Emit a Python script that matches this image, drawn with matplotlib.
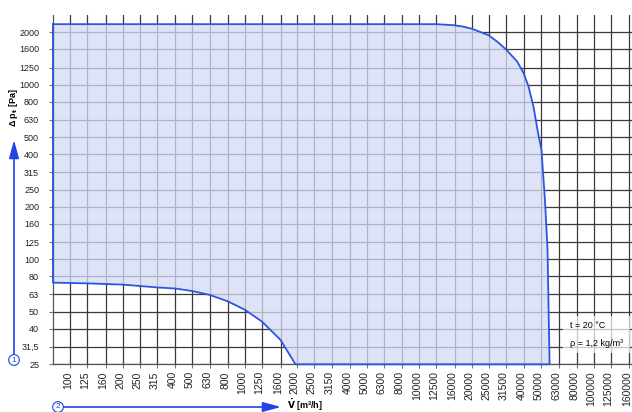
"""Fan operating range chart (flow vs. pressure)."""
import matplotlib.pyplot as plt
from matplotlib.patches import Rectangle
from matplotlib.ticker import FixedLocator, NullLocator
from matplotlib.transforms import ScaledTranslation

plt.rcParams['font.family'] = ['Liberation Sans', 'DejaVu Sans']

# Tick values (R10 series) and their labels
flow_ticks = [100, 125, 160, 200, 250, 315, 400, 500, 630, 800, 1000, 1250,
              1600, 2000, 2500, 3150, 4000, 5000, 6300, 8000, 10000, 12500,
              16000, 20000, 25000, 31500, 40000, 50000, 63000, 80000, 100000,
              125000, 160000]
flow_labels = [str(v) for v in flow_ticks]
pres_ticks = [25, 31.5, 40, 50, 63, 80, 100, 125, 160, 200, 250, 315, 400,
              500, 630, 800, 1000, 1250, 1600, 2000]
pres_labels = ['25', '31,5', '40', '50', '63', '80', '100', '125', '160',
               '200', '250', '315', '400', '500', '630', '800', '1000',
               '1250', '1600', '2000']

# Upper limit curve (max pressure)
flow_max = [12500, 15700, 17800, 20000, 24900, 28200, 31600, 36300, 39500,
            42200, 45100, 47900, 50100, 52500, 54300, 55800]
pres_max = [2220, 2190, 2150, 2090, 1920, 1750, 1580, 1360, 1170,
            980, 750, 530, 425, 218, 114, 25]

# Lower limit curve (min pressure)
flow_min = [79.4, 125, 200, 315, 400, 500, 630, 800, 1000, 1250, 1600, 1950]
pres_min = [73.4, 72.7, 71.5, 68.9, 67.9, 65.7, 62.4, 57.3, 51.3, 44.0,
            34.5, 25]

W, H = 632, 412
blue_edge = '#2f55e0'
blue_arrow = '#1f44e8'


def fpos(x, y):
    """Pixel position (from top-left) to figure fraction."""
    return x / W, 1 - y / H


fig = plt.figure(figsize=(W / 100, H / 100), dpi=100)
ax = fig.add_axes([53 / W, (H - 364.3) / H, (W - 53) / W, (364.3 - 15) / H])
ax.set_xscale('log')
ax.set_yscale('log')
ax.set_xlim(79.43, 165600)
ax.set_ylim(25, 2505)

ax.xaxis.set_major_locator(FixedLocator(flow_ticks))
ax.yaxis.set_major_locator(FixedLocator(pres_ticks))
ax.xaxis.set_minor_locator(NullLocator())
ax.yaxis.set_minor_locator(NullLocator())
ax.set_xticklabels(flow_labels, rotation=90, fontsize=7.5, color='#222222')
ax.set_yticklabels(pres_labels, fontsize=6.5, color='#222222')
ax.tick_params(axis='both', direction='out', length=3, width=0.8,
               color='#777777')
ax.tick_params(axis='x', pad=2)
ax.tick_params(axis='y', pad=7)
# labels sit a little left of their grid line in the reference
shift = ScaledTranslation(-0.025, 0, fig.dpi_scale_trans)
for lab in ax.get_xticklabels():
    lab.set_transform(lab.get_transform() + shift)

ax.grid(True, color='#3a3a3a', lw=0.9)
ax.set_axisbelow(True)
for side in ('top', 'right'):
    ax.spines[side].set_visible(False)
for side in ('left', 'bottom'):
    ax.spines[side].set_color('#555555')
    ax.spines[side].set_linewidth(0.9)

# Operating area polygon
xs = [flow_min[0]] + flow_max + flow_min[::-1]
ys = [pres_max[0]] + pres_max + pres_min[::-1]
ax.fill(xs, ys, facecolor=(0.83, 0.86, 0.96), alpha=0.76, lw=0, zorder=2)
ax.plot(xs + [xs[0]], ys + [ys[0]], color=blue_edge, lw=1.3, zorder=3,
        clip_on=False)

# Axis arrows with circled numbers
arrow = dict(arrowstyle='-|>,head_length=1.1,head_width=0.3',
             color=blue_arrow, lw=1.2, mutation_scale=10, shrinkA=0,
             shrinkB=0)
ax.annotate('', xy=fpos(14, 140), xytext=fpos(14, 354),
            xycoords='figure fraction', arrowprops=arrow)
ax.annotate('', xy=fpos(281, 407), xytext=fpos(63, 407),
            xycoords='figure fraction', arrowprops=arrow)
circle = dict(boxstyle='circle,pad=0.22', fc='white', ec=blue_arrow, lw=0.8)
fig.text(*fpos(14, 360), '1', ha='center', va='center', fontsize=6,
         color=blue_arrow, bbox=circle)
fig.text(*fpos(58, 407), '2', ha='center', va='center', fontsize=6,
         color=blue_arrow, bbox=circle)

fig.text(*fpos(14, 108), r'Δ p$_{\mathbf{t}}$ [Pa]', rotation=90,
         ha='center', va='center', fontsize=6.5, fontweight='bold')
fig.text(*fpos(287, 405), r'$\mathbf{\dot{V}}$ [m³/h]', ha='left',
         va='center', fontsize=6.5, fontweight='bold')

# Conditions note
fig.add_artist(Rectangle(fpos(563, 353), 67 / W, 37 / H,
                         transform=fig.transFigure, fc='white', alpha=0.7,
                         lw=0))
fig.text(*fpos(570, 326), 't = 20 °C', ha='left', va='center', fontsize=6.5)
fig.text(*fpos(570, 344), 'ρ = 1,2 kg/m³', ha='left', va='center',
         fontsize=6.5)

fig.savefig('out.png', dpi=100)
